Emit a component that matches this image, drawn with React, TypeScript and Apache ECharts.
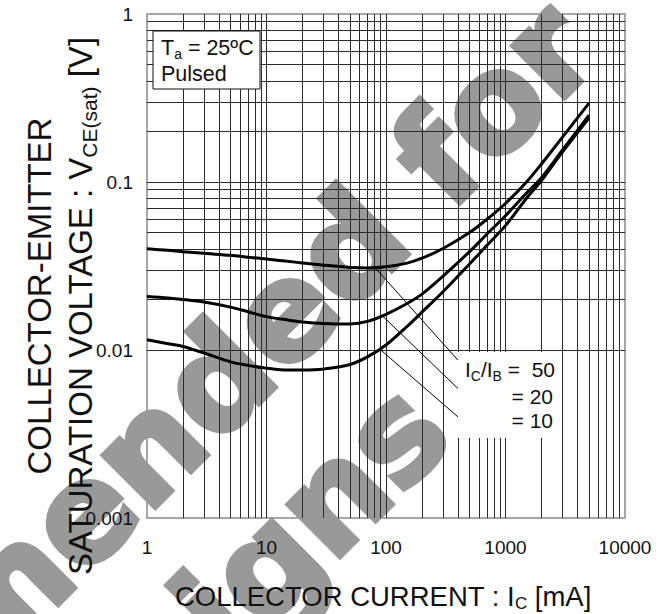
import React, { useEffect, useRef } from "react";
import * as echarts from "echarts";

// ---- axis structure ----
const xTickLabels = ["1", "10", "100", "1000", "10000"];
const yTickLabels = ["0.001", "0.01", "0.1", "1"];
const xDecades = [1, 10, 100, 1000];
const yDecades = [0.001, 0.01, 0.1];
const gridMultipliers = [1, 2, 3, 4, 5, 6, 7, 8, 9];

// ---- curves: collector current [mA] vs VCE(sat) [V] ----
const collectorCurrent = [1, 1.5, 2, 3, 5, 7, 10, 15, 20, 30, 50, 70, 100, 150, 200, 300, 500, 700, 1000, 1500, 2000, 3000, 5000];
const vce50 = [0.04, 0.0392, 0.0385, 0.0376, 0.0366, 0.0357, 0.0348, 0.0337, 0.033, 0.032, 0.031, 0.0308, 0.0313, 0.0329, 0.0352, 0.0402, 0.05, 0.06, 0.0745, 0.1, 0.128, 0.185, 0.295];
const vce20 = [0.0208, 0.0204, 0.02, 0.0193, 0.018, 0.0169, 0.0158, 0.0151, 0.0147, 0.0144, 0.0143, 0.0148, 0.0163, 0.0189, 0.0215, 0.0275, 0.0385, 0.049, 0.063, 0.086, 0.106, 0.155, 0.25];
const vce10 = [0.0115, 0.0109, 0.0105, 0.0096, 0.0085, 0.0081, 0.0078, 0.0076, 0.0076, 0.0077, 0.0082, 0.0091, 0.0107, 0.0138, 0.0168, 0.0222, 0.0325, 0.042, 0.055, 0.08, 0.102, 0.151, 0.24];

// leader lines from each curve to its label
const leader50 = [[81, 0.0309], [400, 0.0087]];
const leader20 = [[93, 0.016], [400, 0.0059]];
const leader10 = [[89, 0.0101], [400, 0.004]];

const FONT = "'Liberation Sans', Arial, Helvetica, sans-serif";

function pairs(xs: number[], ys: number[]) {
  return xs.map((x, i) => [x, ys[i]]);
}

export default function App() {
  const ref = useRef<HTMLDivElement>(null);

  useEffect(() => {
    document.body.style.margin = "0";
    const chart = echarts.init(ref.current!, null, { renderer: "svg" });

    const xLines = xDecades
      .flatMap((d) => gridMultipliers.map((m) => d * m))
      .filter((v) => v > 1 && v < 10000);
    const yLines = yDecades
      .flatMap((d) => gridMultipliers.map((m) => +(d * m).toPrecision(3)))
      .filter((v) => v > 0.001 && v < 1);

    const curve = (name: string, data: number[][]) => ({
      name,
      type: "line",
      data,
      smooth: 0.3,
      showSymbol: false,
      symbol: "none",
      silent: true,
      z: 10,
      lineStyle: { color: "#000", width: 3 },
    });
    const leader = (name: string, data: number[][]) => ({
      name,
      type: "line",
      data,
      showSymbol: false,
      symbol: "none",
      silent: true,
      z: 9,
      lineStyle: { color: "#000", width: 1 },
    });

    const sub = (fs: number, lh: number) => ({
      fontSize: fs,
      fontFamily: FONT,
      fill: "#111",
      color: "#111",
      lineHeight: lh,
      verticalAlign: "bottom",
    });
    const main = (fs: number, lh: number) => ({
      fontSize: fs,
      fontFamily: FONT,
      fill: "#111",
      color: "#111",
      lineHeight: lh,
      verticalAlign: "middle",
    });

    const watermarkStyle = {
      fill: "#999999",
      stroke: "#999999",
      lineWidth: 5,
      fontSize: 135,
      fontWeight: "bold",
      fontFamily: "'DejaVu Sans', sans-serif",
      textAlign: "right",
      align: "right",
      textVerticalAlign: "middle",
      verticalAlign: "middle",
    };

    chart.setOption({
      animation: false,
      grid: {
        left: 147,
        top: 14,
        width: 478,
        height: 504,
        show: true,
        borderColor: "#8a8a8a",
        borderWidth: 1.5,
        backgroundColor: "transparent",
      },
      xAxis: {
        type: "log",
        logBase: 10,
        min: 1,
        max: 10000,
        axisLine: { show: false },
        axisTick: { show: false },
        splitLine: { show: false },
        axisLabel: {
          fontSize: 19,
          fontFamily: FONT,
          color: "#111",
          margin: 20,
          formatter: (v: number) => xTickLabels[Math.round(Math.log10(v))],
        },
      },
      yAxis: {
        type: "log",
        logBase: 10,
        min: 0.001,
        max: 1,
        axisLine: { show: false },
        axisTick: { show: false },
        splitLine: { show: false },
        axisLabel: {
          fontSize: 19,
          fontFamily: FONT,
          color: "#111",
          margin: 14,
          formatter: (v: number) => yTickLabels[Math.round(Math.log10(v)) + 3],
        },
      },
      series: [
        {
          name: "grid",
          type: "line",
          data: [],
          silent: true,
          markLine: {
            silent: true,
            z: 1,
            symbol: ["none", "none"],
            label: { show: false },
            emphasis: { disabled: true },
            lineStyle: { color: "#2a2a2a", width: 1, type: "solid" },
            data: [
              ...xLines.map((v) => ({ xAxis: v })),
              ...yLines.map((v) => ({ yAxis: v })),
            ],
          },
        },
        curve("IC/IB=50", pairs(collectorCurrent, vce50)),
        curve("IC/IB=20", pairs(collectorCurrent, vce20)),
        curve("IC/IB=10", pairs(collectorCurrent, vce10)),
        leader("leader50", leader50),
        leader("leader20", leader20),
        leader("leader10", leader10),
      ],
      graphic: {
        elements: [
          // watermark
          {
            type: "text",
            x: 571,
            y: 26,
            rotation: Math.PI / 4,
            z: 0,
            silent: true,
            style: { ...watermarkStyle, text: "Not Recommended for" },
          },
          {
            type: "text",
            x: 424,
            y: 407,
            rotation: Math.PI / 4,
            z: 0,
            silent: true,
            style: { ...watermarkStyle, text: "New Designs" },
          },
          // condition box
          {
            type: "rect",
            z: 100,
            silent: true,
            shape: { x: 153, y: 31, width: 107, height: 58 },
            style: { fill: "#fff", stroke: "#111", lineWidth: 1 },
          },
          {
            type: "text",
            z: 101,
            x: 161,
            y: 34.7,
            silent: true,
            style: {
              text: "{n|T}{s|a}{n| = 25ºC}",
              textAlign: "left",
              align: "left",
              textVerticalAlign: "top",
              verticalAlign: "top",
              rich: { n: main(21.5, 26), s: sub(14, 14) },
            },
          },
          {
            type: "text",
            z: 101,
            x: 161,
            y: 74.4,
            silent: true,
            style: {
              text: "Pulsed",
              fontSize: 21.5,
              fontFamily: FONT,
              fill: "#111",
              textAlign: "left",
              align: "left",
              textVerticalAlign: "middle",
              verticalAlign: "middle",
            },
          },
          // ratio label box
          {
            type: "rect",
            z: 100,
            silent: true,
            shape: { x: 458, y: 352, width: 104, height: 86 },
            style: { fill: "#fff" },
          },
          {
            type: "text",
            z: 101,
            x: 555,
            y: 356.7,
            silent: true,
            style: {
              text: "{n|I}{s|C}{n|/I}{s|B}{n| =  50}",
              textAlign: "right",
              align: "right",
              textVerticalAlign: "top",
              verticalAlign: "top",
              rich: { n: main(21, 26), s: sub(14, 14) },
            },
          },
          {
            type: "text",
            z: 101,
            x: 553,
            y: 396.7,
            silent: true,
            style: {
              text: "= 20",
              fontSize: 21,
              fontFamily: FONT,
              fill: "#111",
              textAlign: "right",
              align: "right",
              textVerticalAlign: "middle",
              verticalAlign: "middle",
            },
          },
          {
            type: "text",
            z: 101,
            x: 553,
            y: 420.7,
            silent: true,
            style: {
              text: "= 10",
              fontSize: 21,
              fontFamily: FONT,
              fill: "#111",
              textAlign: "right",
              align: "right",
              textVerticalAlign: "middle",
              verticalAlign: "middle",
            },
          },
          // x axis title
          {
            type: "text",
            z: 101,
            x: 383,
            y: 596,
            silent: true,
            style: {
              text: "{n|COLLECTOR CURRENT : I}{s|C}{n| [mA]}",
              textAlign: "center",
              align: "center",
              textVerticalAlign: "middle",
              verticalAlign: "middle",
              rich: { n: main(27.5, 32), s: sub(17, 17) },
            },
          },
          // y axis title (two lines)
          {
            type: "text",
            z: 101,
            x: 39,
            y: 296,
            rotation: Math.PI / 2,
            silent: true,
            style: {
              text: "COLLECTOR-EMITTER",
              fontSize: 33,
              fontFamily: FONT,
              fill: "#111",
              textAlign: "center",
              align: "center",
              textVerticalAlign: "middle",
              verticalAlign: "middle",
            },
          },
          {
            type: "text",
            z: 101,
            x: 80,
            y: 306,
            rotation: Math.PI / 2,
            silent: true,
            style: {
              text: "{n|SATURATION VOLTAGE : V}{s|CE(sat)}{n| [V]}",
              textAlign: "center",
              align: "center",
              textVerticalAlign: "middle",
              verticalAlign: "middle",
              rich: { n: main(33, 39), s: sub(21, 21) },
            },
          },
        ],
      },
    });

    return () => chart.dispose();
  }, []);

  return <div ref={ref} style={{ width: 672, height: 614 }} />;
}
